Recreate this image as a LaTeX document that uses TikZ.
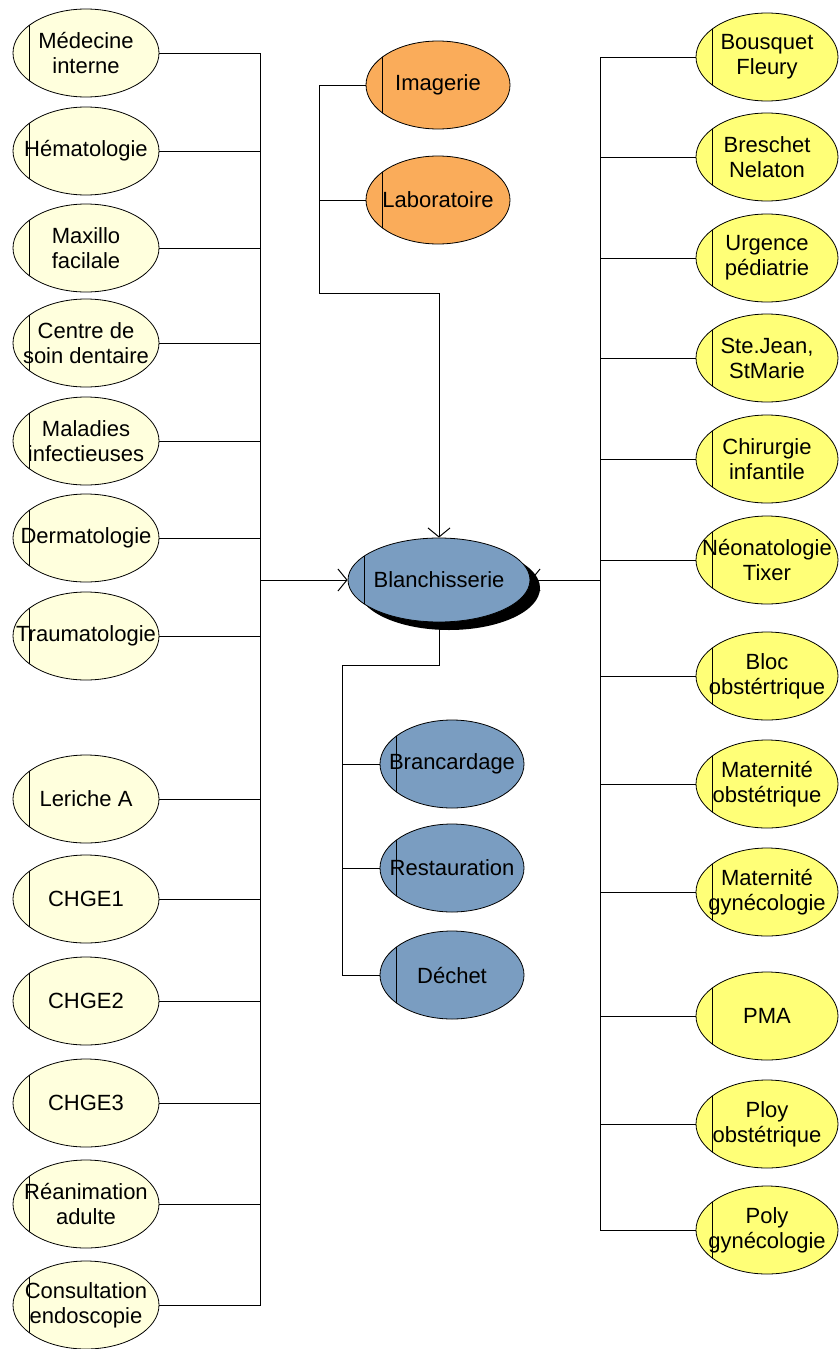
\documentclass[tikz,border=0pt]{standalone}
\usepackage{fontspec}
\setmainfont{Liberation Sans}
\usetikzlibrary{shapes.geometric,arrows.meta}
\definecolor{cream}{RGB}{255,255,221}
\definecolor{yel}{RGB}{255,255,119}
\definecolor{orng}{RGB}{250,172,90}
\definecolor{blu}{RGB}{122,157,193}
\tikzset{
  ell/.style={ellipse, draw=black, line width=0.8pt, inner sep=0pt,
    minimum width=#1, minimum height=88pt,
    path picture={\draw[line width=0.9pt] ([xshift=16pt]path picture bounding box.south west) -- ([xshift=16pt]path picture bounding box.north west);}},
  ell/.default=146pt,
  txt/.style={align=center, inner sep=0pt, font=\fontsize{22}{25}\selectfont},
  lcell/.style={ell, fill=cream},
  rcell/.style={ell=142pt, fill=yel},
  ocell/.style={ell=144pt, fill=orng},
  bcell/.style={ell=144pt, fill=blu},
  conn/.style={line width=1pt, draw=black},
  arr/.style={conn, -{Straight Barb[length=9pt,width=22pt,line width=1pt]}},
}
\begin{document}
\begin{tikzpicture}[x=1pt,y=-1pt]
\useasboundingbox (0,0) rectangle (838,1349);
% center
\fill[black] (449,588) ellipse [x radius=91, y radius=42];
\node[ell=182pt, minimum height=84pt, fill=blu, label={[txt]center:Blanchisserie}] (bl) at (439,580) {};
% left column
\foreach \n/\y/\t in {l1/53/{Médecine\\interne}, l2/151/Hématologie, l3/248/{Maxillo\\facilale},
  l4/343/{Centre de\\soin dentaire}, l5/441/{Maladies\\infectieuses}, l6/538/Dermatologie,
  l7/636/Traumatologie, l8/799/Leriche A, l9/899/CHGE1, l10/1001/CHGE2, l11/1103/CHGE3,
  l12/1204/{Réanimation\\adulte}, l13/1305/{Consultation\\endoscopie}}{
  \node[lcell, label={[txt]center:\t}] (\n) at (86,\y) {};
}
% right column
\foreach \n/\y/\t in {r1/57/{Bousquet\\Fleury}, r2/157/{Breschet\\Nelaton}, r3/258/{Urgence\\pédiatrie},
  r4/358/{Ste.Jean,\\StMarie}, r5/459/{Chirurgie\\infantile}, r6/560/{Néonatologie\\Tixer},
  r7/676/{Bloc\\obstértrique}, r8/784/{Maternité\\obstétrique}, r9/892/{Maternité\\gynécologie},
  r10/1016/PMA, r11/1124/{Ploy\\obstétrique}, r12/1230/{Poly\\gynécologie}}{
  \node[rcell, label={[txt]center:\t}] (\n) at (767,\y) {};
}
% top
\node[ocell, label={[txt]center:Imagerie}] (img) at (438,85) {};
\node[ocell, label={[txt]center:Laboratoire}] (lab) at (438,200) {};
% bottom
\node[bcell, label={[txt]center:Brancardage}] (brc) at (452,764) {};
\node[bcell, label={[txt]center:Restauration}] (rst) at (452,868) {};
\node[bcell, label={[txt]center:Déchet}] (dch) at (452,975) {};
% buses
\coordinate (lbus) at (260,580);
\coordinate (rbus) at (600,580);
\coordinate (tbus) at (319,293);
\coordinate (bbus) at (342,665);
\foreach \n in {l1,l2,l3,l4,l5,l6,l7,l8,l9,l10,l11,l12,l13}{\draw[conn] (\n.east) -| (lbus);}
\foreach \n in {r1,r2,r3,r4,r5,r6,r7,r8,r9,r10,r11,r12}{\draw[conn] (\n.west) -| (rbus);}
\draw[arr] (lbus) -- (bl.west);
\draw[arr] (rbus) -- (bl.east);
\draw[arr] (img.west) -| (tbus) -| (bl.north);
\draw[conn] (lab.west) -- (lab.west -| tbus);
\draw[conn] (bl.south) |- (bbus) |- (dch.west);
\draw[conn] (brc.west) -- (brc.west -| bbus);
\draw[conn] (rst.west) -- (rst.west -| bbus);
\end{tikzpicture}
\end{document}
